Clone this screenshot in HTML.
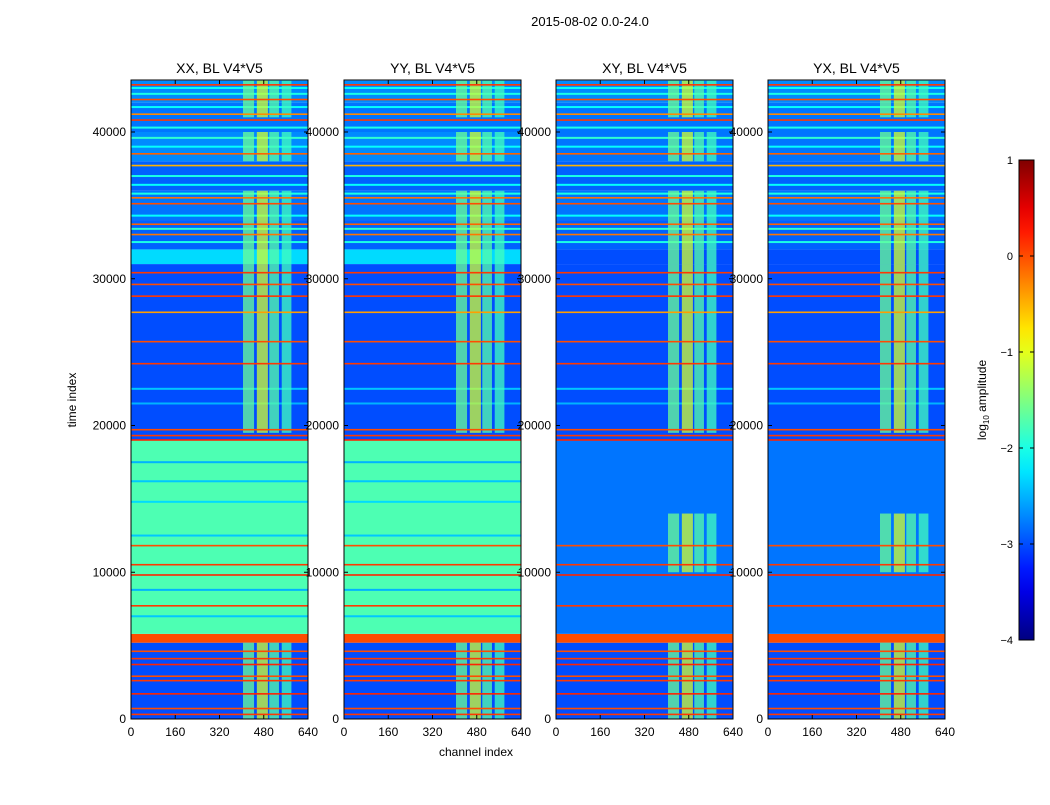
<!DOCTYPE html>
<html><head><meta charset="utf-8">
<style>
body{margin:0;background:#fff;font-family:"Liberation Sans",sans-serif;}
svg text{font-family:"Liberation Sans",sans-serif;}
</style></head>
<body>
<svg id="fig" width="1050" height="800" xmlns="http://www.w3.org/2000/svg">
<rect width="1050" height="800" fill="#fff"/>
<text x="590" y="26" font-size="13" text-anchor="middle">2015-08-02 0.0-24.0</text>
<text x="476" y="756" font-size="12" text-anchor="middle">channel index</text>
<text transform="translate(76,400) rotate(-90)" font-size="12" text-anchor="middle">time index</text>
<g id="panels"></g>
<g id="cbar"></g>
</svg>
<script>
const panelNames=["XX, BL V4*V5","YY, BL V4*V5","XY, BL V4*V5","YX, BL V4*V5"];
const panelLefts=[131,344,556,768];
const xTicks=[0,160,320,480,640];
const yTicks=[0,10000,20000,30000,40000];
const cbTicks=[1,0,-1,-2,-3,-4];
// time segments: [start, end, value for parallel (XX/YY), value for cross (XY/YX)]
const segStart=[0,5200,5800,19000,31000,32000,34000,36000,38000,40000,42000];
const segEnd  =[5200,5800,19000,31000,32000,34000,36000,38000,40000,42000,43500];
const segPar  =[-3.0,0.0,-1.75,-3.0,-2.3,-2.9,-2.8,-2.9,-2.7,-2.8,-2.7];
const segCross=[-3.0,0.0,-2.8,-3.0,-3.0,-2.9,-2.8,-2.9,-2.8,-2.8,-2.7];
// RFI channel bands
const bandStart=[405,455,500,545];
const bandEnd  =[445,495,535,580];
const bandVal  =[-1.6,-1.1,-1.7,-1.8];
const rfiStart=[0,19500,31000,33000,38000,41000];
const rfiEnd  =[5200,31000,33000,36000,40000,43500];
const crossRfiStart=[0,10000,19500,31000,33000,38000,41000];
const crossRfiEnd  =[5200,14000,31000,33000,36000,40000,43500];
// horizontal RFI lines
const lineTimes=[300,700,1700,2600,2900,3700,4100,4600,7700,9800,10500,11800,19000,19300,19700,24200,25700,27700,28800,29600,30400,33000,33700,35100,35500,37700,38500,40800,41200,42200,43200];
const lineVals =[0.1,0.0,0.2,0.1,0.0,0.2,0.1,0.0,0.1,0.2,0.1,0.0,0.2,0.1,0.0,0.1,0.0,-0.4,0.1,0.0,0.1,-0.2,-0.1,0.0,-0.2,-0.5,-0.1,0.1,-0.3,0.0,0.1];
// cyan lines in upper region
const cyanTimes=[32500,33400,34300,35800,36400,37000,39000,39600,40300,41700,42600,43000,22500,21500];
const cyanVals =[-2.0,-1.9,-2.1,-2.0,-2.1,-2.0,-2.1,-1.9,-2.0,-2.1,-2.0,-2.1,-2.4,-2.5];
// lighter drift lines in the parallel-pol region
const driftTimes=[7000,8800,12500,14800,16200,17500];
const driftVals =[-2.4,-2.5,-2.4,-2.3,-2.4,-2.5];

const NS="http://www.w3.org/2000/svg";
function jet(v){let t=(v+4)/5;t=Math.max(0,Math.min(1,t));
 const c=x=>Math.round(255*Math.max(0,Math.min(1,1.5-Math.abs(4*t-x))));
 return `rgb(${c(3)},${c(2)},${c(1)})`;}
const TOP=80,BOT=719,W=177;
function yS(t){return BOT-t/10000*146.75;}
function mk(tag,attrs,parent){const e=document.createElementNS(NS,tag);for(const k in attrs)e.setAttribute(k,attrs[k]);parent.appendChild(e);return e;}
const G=document.getElementById('panels');
panelLefts.forEach((L,p)=>{
 const cross=p>=2;
 const xS=ch=>L+ch/640*W;
 const g=mk('g',{},G);
 
 
 const clip=mk('clipPath',{id:'c'+p},g);mk('rect',{x:L,y:TOP,width:W,height:BOT-TOP},clip);
 const h=mk('g',{'clip-path':`url(#c${p})`},g);
 
 
 segStart.forEach((s,i)=>{const v=cross?segCross[i]:segPar[i];
  const r=mk('rect',{x:L,y:yS(segEnd[i]),width:W,height:yS(s)-yS(segEnd[i]),fill:jet(v)},h);
  
  });
 if(!cross) driftTimes.forEach((t,i)=>{const r=mk('rect',{x:L,y:yS(t)-1,width:W,height:2,fill:jet(driftVals[i])},h);
  
  });
 cyanTimes.forEach((t,i)=>{const r=mk('rect',{x:L,y:yS(t)-1,width:W,height:2,fill:jet(cyanVals[i])},h);
  
  });
 const rs=cross?crossRfiStart:rfiStart, re=cross?crossRfiEnd:rfiEnd;
 rs.forEach((s,i)=>bandStart.forEach((b,j)=>{
  const r=mk('rect',{x:xS(b),y:yS(re[i]),width:xS(bandEnd[j])-xS(b),height:yS(s)-yS(re[i]),fill:jet(bandVal[j]),opacity:0.75},h);
  
  }));
 lineTimes.forEach((t,i)=>{const r=mk('rect',{x:L,y:yS(t)-1,width:W,height:1.6,fill:jet(lineVals[i])},h);
  
  });
 mk('rect',{x:L,y:TOP,width:W,height:BOT-TOP,fill:'none',stroke:'#000','stroke-width':1},g);
 const tt=mk('text',{x:L+W/2,y:TOP-7,'font-size':14,'text-anchor':'middle'},g);tt.textContent=panelNames[p];
 
 
 xTicks.forEach(v=>{const x=xS(v);mk('line',{x1:x,x2:x,y1:BOT,y2:BOT-4,stroke:'#000'},g);mk('line',{x1:x,x2:x,y1:TOP,y2:TOP+4,stroke:'#000'},g);
  const t=mk('text',{x:x,y:BOT+17,'font-size':12,'text-anchor':'middle'},g);t.textContent=v;
  
  });
 yTicks.forEach(v=>{const y=yS(v);mk('line',{x1:L,x2:L+4,y1:y,y2:y,stroke:'#000'},g);mk('line',{x1:L+W,x2:L+W-4,y1:y,y2:y,stroke:'#000'},g);
  const t=mk('text',{x:L-5,y:y+4,'font-size':12,'text-anchor':'end'},g);t.textContent=v;
  
  });
});
const C=document.getElementById('cbar');


const cbTop=160,cbBot=640,cbX=1019,cbW=15;
const cy=v=>cbBot-(v+4)/5*(cbBot-cbTop);
const defs=mk('defs',{},C);const lg=mk('linearGradient',{id:'jg',x1:0,y1:1,x2:0,y2:0},defs);
for(let k=0;k<=20;k++){mk('stop',{offset:k/20,'stop-color':jet(-4+5*k/20)},lg);}
mk('rect',{x:cbX,y:cbTop,width:cbW,height:cbBot-cbTop,fill:'url(#jg)',stroke:'#000'},C);
cbTicks.forEach(v=>{const y=cy(v);mk('line',{x1:cbX,x2:cbX+4,y1:y,y2:y,stroke:'#000'},C);mk('line',{x1:cbX+cbW,x2:cbX+cbW-4,y1:y,y2:y,stroke:'#000'},C);
 const t=mk('text',{x:1013,y:y+4,'font-size':11,'text-anchor':'end'},C);t.textContent=v<0?'\u2212'+Math.abs(v):v;
 
 });
const cl=mk('text',{transform:'translate(986,400) rotate(-90)','font-size':12,'text-anchor':'middle'},C);
cl.innerHTML='log<tspan font-size="8" dy="3">10</tspan><tspan dy="-3"> amplitude</tspan>';


</script>
</body></html>
